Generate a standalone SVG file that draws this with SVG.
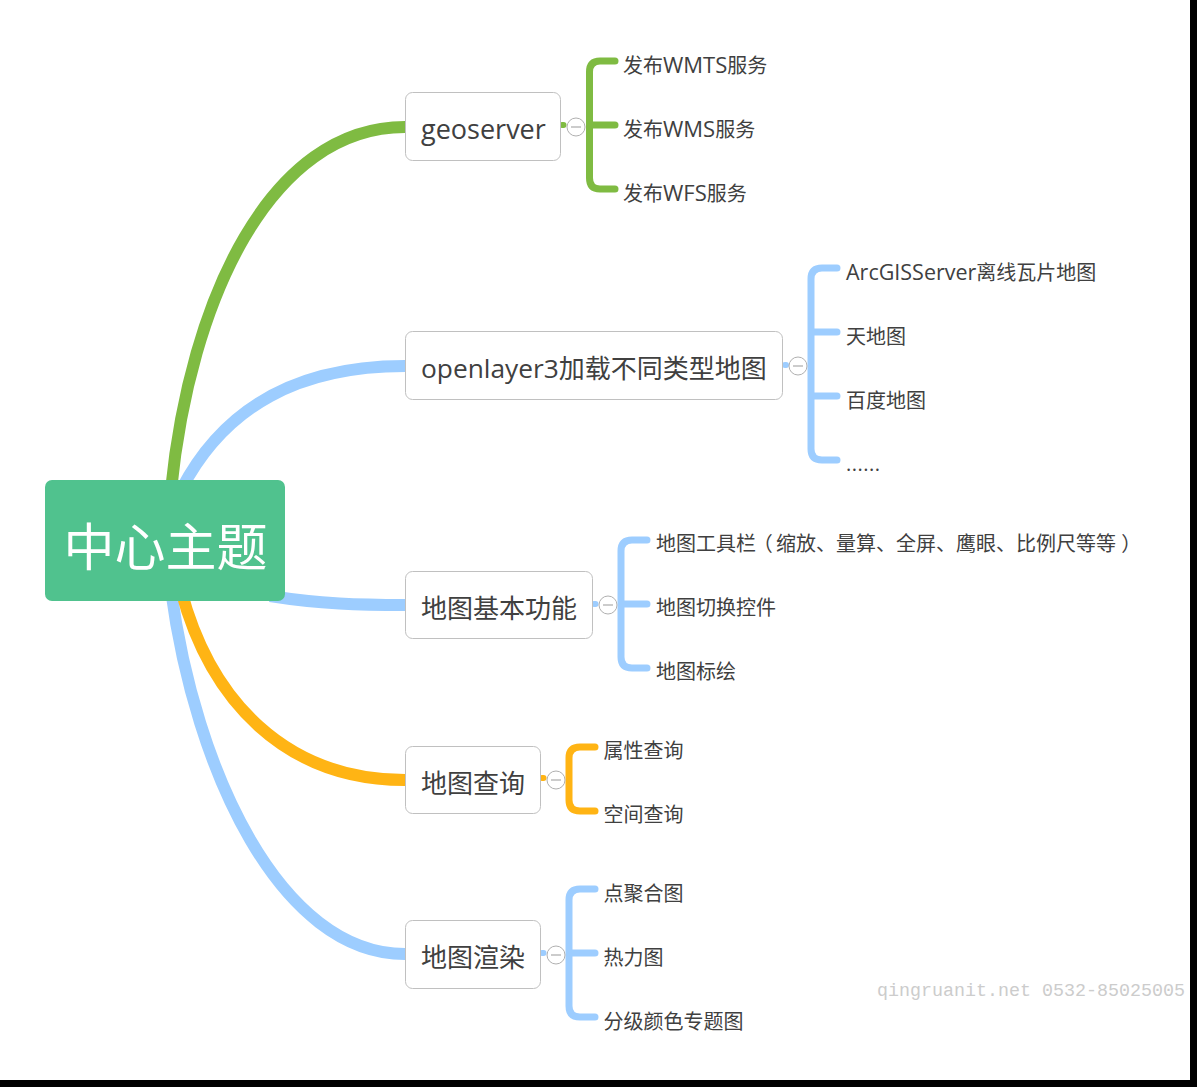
<svg xmlns="http://www.w3.org/2000/svg" width="1197" height="1087" viewBox="0 0 1197 1087">
<style>
text{font-family:"Open Sans","Noto Sans CJK SC",sans-serif;fill:#404040}
.l1{font-size:26px}
.l2{font-size:20px}
.box{fill:#fff;stroke:#c0c0c0;stroke-width:1}
.c{fill:none;stroke-width:12px;stroke-linecap:butt}
.b{fill:none;stroke-width:7px;stroke-linecap:round;stroke-linejoin:round}
.s{fill:none;stroke-width:6px;stroke-linecap:round}
.g{stroke:#7fbb42}.u{stroke:#9dcdff}.o{stroke:#ffb414}
.tog{fill:#fff;stroke:#b0b0b0;stroke-width:1}
.m{stroke:#999;stroke-width:1}
.lat2{font-size:22px}
.p{font-family:"Noto Sans CJK SC",sans-serif;font-feature-settings:"palt" 1}
</style>
<rect width="1197" height="1087" fill="#fff"/>
<g id="connectors">
<path class="c g" d="M171 490C190 300 270 127 405 127"/>
<path class="c u" d="M181 490C225 405 300 366 405 366"/>
<path class="c u" d="M270 596C320 604 360 605 405 605"/>
<path class="c u" d="M171 590C195 770 280 954 405 954"/>
<path class="c o" d="M181 590C210 700 285 780 405 780"/>
<path class="s g" d="M562 125H563.500"/><path class="b g" d="M615 61H600Q589.500 61 589.500 72V178Q589.500 189 600 189H615M589.500 125H615"/>
<path class="s u" d="M785 365H786"/><path class="b u" d="M837 268H822Q811 268 811 279V449Q811 460 822 460H837M811 332H837M811 396H837"/>
<path class="s u" d="M594 604H595.500"/><path class="b u" d="M647 540H632Q621 540 621 551V657Q621 668 632 668H647M621 604H647"/>
<path class="s o" d="M542 778H543.500"/><path class="b o" d="M595 747H580Q569 747 569 758V800Q569 811 580 811H595"/>
<path class="s u" d="M542 953H543.500"/><path class="b u" d="M595 889H580Q569 889 569 900V1006Q569 1017 580 1017H595M569 953H595"/>
</g>
<g id="root"><rect x="45" y="480" width="240" height="121" rx="7" fill="#50c28e"/><text x="165.500" y="566" font-size="51" text-anchor="middle" style="fill:#fff;font-family:'Noto Sans CJK SC',sans-serif">中心主题</text></g>
<g id="n1"><rect class="box" x="405.500" y="92.500" width="155" height="68" rx="7"/><text class="l1" x="421" y="139" style="font-size:27px">geoserver</text><circle class="tog" cx="576" cy="127" r="9"/><path class="m" d="M571 127H581"/></g>
<g id="n2"><rect class="box" x="405.500" y="331.500" width="377" height="68" rx="7"/><text class="l1" x="421" y="378"><tspan style="font-size:26.300px">openlayer3</tspan>加载不同类型地图</text><circle class="tog" cx="798" cy="366" r="9"/><path class="m" d="M793 366H803"/></g>
<g id="n3"><rect class="box" x="405.500" y="571.500" width="187" height="67" rx="7"/><text class="l1" x="421" y="618">地图基本功能</text><circle class="tog" cx="608" cy="605" r="9"/><path class="m" d="M603 605H613"/></g>
<g id="n4"><rect class="box" x="405.500" y="746.500" width="135" height="67" rx="7"/><text class="l1" x="421" y="793">地图查询</text><circle class="tog" cx="556" cy="780" r="9"/><path class="m" d="M551 780H561"/></g>
<g id="n5"><rect class="box" x="405.500" y="920.500" width="135" height="68" rx="7"/><text class="l1" x="421" y="967">地图渲染</text><circle class="tog" cx="556" cy="955" r="9"/><path class="m" d="M551 955H561"/></g>
<g id="leaves">
<text class="l2" x="623" y="73">发布<tspan class="lat2">WMTS</tspan>服务</text>
<text class="l2" x="623" y="137">发布<tspan class="lat2">WMS</tspan>服务</text>
<text class="l2" x="623" y="201">发布<tspan class="lat2">WFS</tspan>服务</text>
<text class="l2" x="846" y="280"><tspan style="font-size:21.500px">ArcGISServer</tspan>离线瓦片地图</text>
<text class="l2" x="846" y="344">天地图</text>
<text class="l2" x="846" y="408">百度地图</text>
<text class="l2" x="846" y="471" letter-spacing="0.500">......</text>
<text class="l2" x="656" y="551">地图工具栏<tspan class="p" x="762">（</tspan><tspan x="776">缩放、量算、全屏、鹰眼、比例尺等等</tspan><tspan class="p" x="1122">）</tspan></text>
<text class="l2" x="656" y="615">地图切换控件</text>
<text class="l2" x="656" y="679">地图标绘</text>
<text class="l2" x="603.500" y="758">属性查询</text>
<text class="l2" x="603.500" y="822">空间查询</text>
<text class="l2" x="603.500" y="901">点聚合图</text>
<text class="l2" x="603.500" y="965">热力图</text>
<text class="l2" x="603.500" y="1029">分级颜色专题图</text>
</g>
<text x="877" y="996" font-size="18.330" style="font-family:'Liberation Mono',monospace;fill:#ccc">qingruanit.net 0532-85025005</text>
<rect x="1190" y="0" width="7" height="1087" fill="#000"/>
<rect x="0" y="1080" width="1197" height="7" fill="#000"/>
</svg>
